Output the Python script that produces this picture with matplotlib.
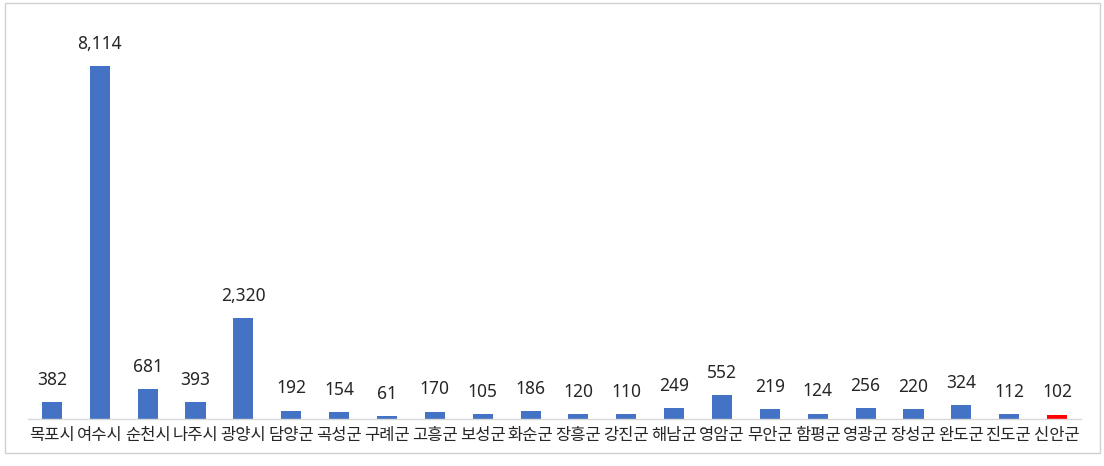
import matplotlib
matplotlib.use("Agg")
import matplotlib.pyplot as plt
from matplotlib.patches import Rectangle

plt.rcParams['font.family'] = ['Noto Sans CJK KR', 'DejaVu Sans']

categories = ['목포시', '여수시', '순천시', '나주시', '광양시', '담양군', '곡성군', '구례군',
              '고흥군', '보성군', '화순군', '장흥군', '강진군', '해남군', '영암군', '무안군',
              '함평군', '영광군', '장성군', '완도군', '진도군', '신안군']
values = [382, 8114, 681, 393, 2320, 192, 154, 61, 170, 105, 186, 120, 110, 249, 552,
          219, 124, 256, 220, 324, 112, 102]
highlight = '신안군'

W, H = 1104, 466
fig = plt.figure(figsize=(W / 100, H / 100), dpi=100)
fig.patch.set_facecolor('white')

# outer frame
fig.add_artist(Rectangle((5 / W, 1 - 453 / H), 1095 / W, 450 / H, transform=fig.transFigure,
                         fill=False, edgecolor='#D0D0D0', linewidth=1))

ax = fig.add_axes([28 / W, 47 / H, 1053 / W, 399 / H])
x = list(range(len(categories)))
colors = ['#FF0000' if c == highlight else '#4472C4' for c in categories]
bars = ax.bar(x, values, width=0.42, color=colors, zorder=2)

ax.set_xlim(-0.5, len(categories) - 0.5)
ax.set_ylim(0, 9171)
for s in ['top', 'right', 'left']:
    ax.spines[s].set_visible(False)
ax.spines['bottom'].set_color('#D9D9D9')
ax.spines['bottom'].set_linewidth(1)
ax.set_yticks([])
ax.set_xticks(x)
ax.set_xticklabels(categories, fontsize=11.9, color='#262626')
ax.tick_params(axis='x', length=0, pad=6)

for xi, v in zip(x, values):
    ax.annotate(f'{v:,}', (xi, v), xytext=(0, 16), textcoords='offset points',
                ha='center', va='center', fontsize=12.5, color='#262626',
                family=['Noto Sans', 'DejaVu Sans'])

fig.savefig('out.png', dpi=100)
